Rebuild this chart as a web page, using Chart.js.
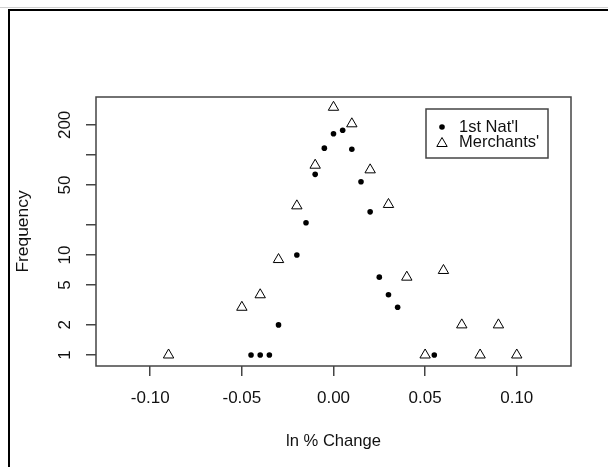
<!DOCTYPE html>
<html>
<head>
<meta charset="utf-8">
<script src="https://cdn.jsdelivr.net/npm/chart.js@4.4.1/dist/chart.umd.min.js"></script>
<style>
  html, body { margin: 0; padding: 0; background: #fff; }
  canvas { display: block; }
</style>
</head>
<body>
<canvas id="c" width="608" height="467"></canvas>
<script>
// ---- data ----
const natX    = [-0.045, -0.04, -0.035, -0.03, -0.02, -0.015, -0.01, -0.005, 0, 0.005, 0.01, 0.015, 0.02, 0.025, 0.03, 0.035, 0.055];
const natFreq = [1, 1, 1, 2, 10, 21, 64, 117, 163, 177, 114, 54, 27, 6, 4, 3, 1];
const merX    = [-0.09, -0.05, -0.04, -0.03, -0.02, -0.01, 0, 0.01, 0.02, 0.03, 0.04, 0.05, 0.06, 0.07, 0.08, 0.09, 0.10];
const merFreq = [1, 3, 4, 9, 31, 79, 300, 205, 71, 32, 6, 1, 7, 2, 1, 2, 1];
const seriesLabels = ["1st Nat'l", "Merchants'"];
const xTicks = [-0.10, -0.05, 0.00, 0.05, 0.10];
const yTicks = [1, 2, 5, 10, 20, 50, 100, 200];
const yTickLabels = ['1', '2', '5', '10', '', '50', '', '200'];
const xTitle = 'ln % Change';
const yTitle = 'Frequency';

const FONT = 'Liberation Sans, Arial, Helvetica, sans-serif';
const TXT = '#111';
const LINE = '#444';

const framePlugin = {
  id: 'frame',
  beforeDraw(chart) {
    const ctx = chart.ctx;
    ctx.save();
    ctx.fillStyle = '#fff';
    ctx.fillRect(0, 0, chart.width, chart.height);
    ctx.strokeStyle = '#d0d0d0';
    ctx.lineWidth = 1;
    ctx.beginPath(); ctx.moveTo(0, 7.5); ctx.lineTo(chart.width, 7.5); ctx.stroke();
    ctx.strokeStyle = '#000';
    ctx.lineWidth = 2;
    ctx.strokeRect(9, 10, chart.width + 50, chart.height + 50);
    ctx.restore();
  },
  afterDraw(chart) {
    const ctx = chart.ctx;
    const a = chart.chartArea;
    ctx.save();
    ctx.strokeStyle = LINE;
    ctx.lineWidth = 1.5;
    ctx.strokeRect(a.left, a.top, a.right - a.left, a.bottom - a.top);

    // legend box (top-right inside plot)
    const bw = 122, bh = 49;
    const bx = a.right - 23 - bw, by = a.top + 12;
    ctx.fillStyle = '#fff';
    ctx.fillRect(bx, by, bw, bh);
    ctx.strokeRect(bx, by, bw, bh);
    const ds = chart.data.datasets;
    const rows = [by + 18, by + 33.5];
    ds.forEach((d, i) => {
      const mx = bx + 16, my = rows[i];
      ctx.save();
      ctx.fillStyle = d.backgroundColor;
      ctx.strokeStyle = d.borderColor;
      ctx.lineWidth = d.borderWidth || 0.0001;
      const opts = { pointStyle: d.pointStyle, radius: d.pointRadius, borderWidth: d.borderWidth, rotation: 0 };
      if (Chart.helpers && Chart.helpers.drawPoint) {
        Chart.helpers.drawPoint(ctx, opts, mx, my + (d.pointStyle === 'triangle' ? 1 : 0));
      }
      ctx.restore();
      ctx.fillStyle = TXT;
      ctx.font = '16.5px ' + FONT;
      ctx.textBaseline = 'middle';
      ctx.textAlign = 'left';
      ctx.fillText(d.label, bx + 33, my);
    });
    ctx.restore();
  }
};

new Chart(document.getElementById('c'), {
  type: 'scatter',
  data: {
    datasets: [
      {
        label: seriesLabels[0],
        data: natX.map((x, i) => ({ x: x, y: natFreq[i] })),
        pointStyle: 'circle',
        pointRadius: 2.8,
        backgroundColor: '#000',
        borderColor: '#000',
        borderWidth: 0
      },
      {
        label: seriesLabels[1],
        data: merX.map((x, i) => ({ x: x, y: merFreq[i] })),
        pointStyle: 'triangle',
        pointRadius: 6,
        backgroundColor: 'rgba(0,0,0,0)',
        borderColor: '#000',
        borderWidth: 1
      }
    ]
  },
  options: {
    responsive: false,
    animation: false,
    devicePixelRatio: 1,
    layout: { padding: { top: 97, right: 37, left: 0, bottom: 0 } },
    plugins: { legend: { display: false }, tooltip: { enabled: false } },
    scales: {
      x: {
        type: 'linear',
        min: -0.1296,
        max: 0.1296,
        afterBuildTicks: s => { s.ticks = xTicks.map(v => ({ value: v })); },
        afterFit: s => { s.height = 101; },
        grid: { drawOnChartArea: false, drawTicks: true, tickLength: 10, color: LINE, lineWidth: 1.5 },
        border: { display: false },
        ticks: {
          callback: v => Number(v).toFixed(2),
          font: { family: FONT, size: 17 },
          color: TXT,
          padding: 12,
          maxRotation: 0,
          minRotation: 0,
          autoSkip: false
        },
        title: { display: true, text: xTitle, font: { family: FONT, size: 16.6 }, color: TXT, padding: { top: 0, bottom: 16 } }
      },
      y: {
        type: 'logarithmic',
        min: 0.776,
        max: 380,
        afterBuildTicks: s => { s.ticks = yTicks.map(v => ({ value: v })); },
        afterFit: s => { s.width = 96; },
        grid: { drawOnChartArea: false, drawTicks: true, tickLength: 10, color: LINE, lineWidth: 1.5 },
        border: { display: false },
        ticks: {
          callback: (v) => { const k = yTicks.indexOf(v); return k >= 0 ? yTickLabels[k] : ''; },
          font: { family: FONT, size: 17 },
          color: TXT,
          padding: 7,
          minRotation: 90,
          maxRotation: 90,
          crossAlign: 'center',
          autoSkip: false
        },
        title: { display: true, text: yTitle, font: { family: FONT, size: 17.4 }, color: TXT, padding: { top: 12.6, bottom: 0 } }
      }
    }
  },
  plugins: [framePlugin]
});
</script>
</body>
</html>
